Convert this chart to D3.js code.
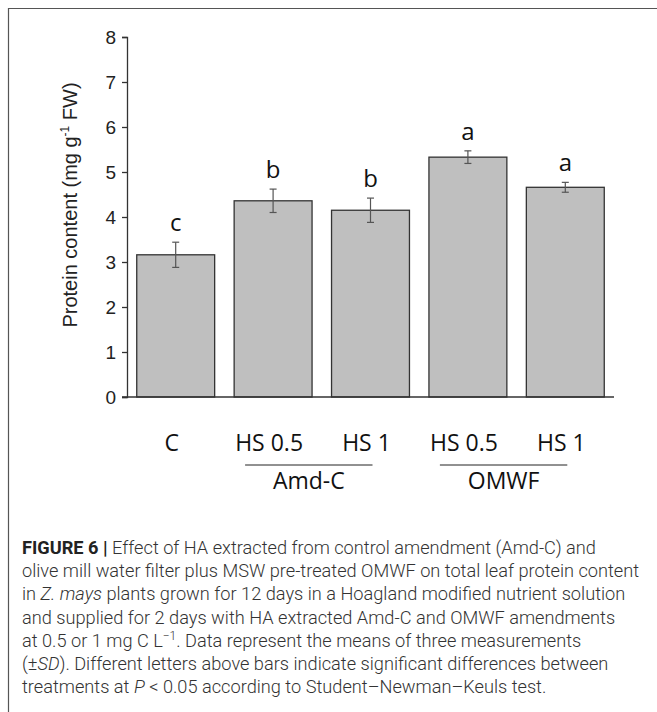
<!DOCTYPE html>
<html>
<head>
<meta charset="utf-8">
<script src="https://cdn.jsdelivr.net/npm/d3@7"></script>
<style>
  body { margin: 0; background: #fff; }
  svg { display: block; }
</style>
</head>
<body>
<svg id="chart" width="657" height="712"></svg>
<script>
// data
const categories = ["C", "HS 0.5 (Amd-C)", "HS 1 (Amd-C)", "HS 0.5 (OMWF)", "HS 1 (OMWF)"];
const tickNames = ["C", "HS 0.5", "HS 1", "HS 0.5", "HS 1"];
const means = [3.16, 4.36, 4.15, 5.33, 4.66];
const sds = [0.28, 0.26, 0.27, 0.14, 0.11];
const letters = ["c", "b", "b", "a", "a"];
const groups = [
  { name: "Amd-C", first: 1, last: 2 },
  { name: "OMWF", first: 3, last: 4 }
];
const yTicks = [0, 1, 2, 3, 4, 5, 6, 7, 8];

// caption, one array per line: [text, style]
const caption = [
  [["FIGURE 6 |", "b"], [" Effect of HA extracted from control amendment (Amd-C) and", ""]],
  [["olive mill water filter plus MSW pre-treated OMWF on total leaf protein content", ""]],
  [["in ", ""], ["Z. mays", "i"], [" plants grown for 12 days in a Hoagland modified nutrient solution", ""]],
  [["and supplied for 2 days with HA extracted Amd-C and OMWF amendments", ""]],
  [["at 0.5 or 1 mg C L", ""], ["\u22121", "sup"], [". Data represent the means of three measurements", ""]],
  [["(\u00b1", ""], ["SD", "i"], ["). Different letters above bars indicate significant differences between", ""]],
  [["treatments at ", ""], ["P", "i"], [" < 0.05 according to Student\u2013Newman\u2013Keuls test.", ""]]
];

const svg = d3.select("#chart");

// frame (only top and left edges fall inside the picture)
svg.append("path")
  .attr("d", "M8.5,712V8.5H657")
  .attr("fill", "none")
  .attr("stroke", "#555")
  .attr("stroke-width", 1.2);

const x = d3.scaleBand()
  .domain(categories)
  .range([127, 614])
  .paddingInner(0.2)
  .paddingOuter(0.1);

const y = d3.scaleLinear()
  .domain([0, 8])
  .range([397, 37]);

const axisFont = "'Liberation Sans', Arial, sans-serif";
const labelFont = "'Open Sans', sans-serif";

// y axis
const yAxis = svg.append("g")
  .attr("transform", "translate(127,0)")
  .call(d3.axisLeft(y).tickValues(yTicks).tickSize(5).tickPadding(6));
yAxis.attr("font-family", axisFont).attr("font-size", 19);
yAxis.select(".domain").attr("stroke", "#333").attr("stroke-width", 1.3);
yAxis.selectAll(".tick line").attr("stroke", "#333").attr("stroke-width", 1.3);
yAxis.selectAll(".tick text").attr("fill", "#222");

// y label
const yLab = svg.append("text")
  .attr("transform", "translate(77,205) rotate(-90)")
  .attr("text-anchor", "middle")
  .attr("font-family", axisFont)
  .attr("font-size", 20)
  .attr("fill", "#222");
yLab.append("tspan").text("Protein content (mg g");
yLab.append("tspan").attr("font-size", 12).attr("dy", -8).text("-1");
yLab.append("tspan").attr("dy", 8).text(" FW)");

// bars
svg.append("g").selectAll("rect")
  .data(means)
  .join("rect")
    .attr("x", (d, i) => x(categories[i]))
    .attr("y", d => y(d))
    .attr("width", x.bandwidth())
    .attr("height", d => y(0) - y(d))
    .attr("fill", "#bfbfbf")
    .attr("stroke", "#333")
    .attr("stroke-width", 1.3);

// x axis line
svg.append("line")
  .attr("x1", 122).attr("x2", 614)
  .attr("y1", y(0)).attr("y2", y(0))
  .attr("stroke", "#333")
  .attr("stroke-width", 1.5);

// error bars
const eb = svg.append("g").attr("stroke", "#555").attr("stroke-width", 1.2);
means.forEach((m, i) => {
  const cx = x(categories[i]) + x.bandwidth() / 2;
  const top = y(m + sds[i]), bot = y(m - sds[i]);
  eb.append("line").attr("x1", cx).attr("x2", cx).attr("y1", top).attr("y2", bot);
  eb.append("line").attr("x1", cx - 3.5).attr("x2", cx + 3.5).attr("y1", top).attr("y2", top);
  eb.append("line").attr("x1", cx - 3.5).attr("x2", cx + 3.5).attr("y1", bot).attr("y2", bot);
});

// significance letters
svg.append("g").selectAll("text")
  .data(letters)
  .join("text")
    .attr("x", (d, i) => x(categories[i]) + x.bandwidth() / 2)
    .attr("y", (d, i) => y(means[i] + sds[i]) - 11)
    .attr("text-anchor", "middle")
    .attr("font-family", labelFont)
    .attr("font-size", 24)
    .attr("fill", "#111")
    .text(d => d);

// category labels
svg.append("g").selectAll("text")
  .data(tickNames)
  .join("text")
    .attr("x", (d, i) => x(categories[i]) + x.bandwidth() / 2 - 4)
    .attr("y", 451)
    .attr("text-anchor", "middle")
    .attr("font-family", labelFont)
    .attr("font-size", 23)
    .attr("fill", "#111")
    .text(d => d);

// group brackets
groups.forEach(g => {
  const x1 = x(categories[g.first]) + x.bandwidth() / 2 - 28;
  const x2 = x(categories[g.last]) + x.bandwidth() / 2 + 2;
  svg.append("line")
    .attr("x1", x1).attr("x2", x2)
    .attr("y1", 465).attr("y2", 465)
    .attr("stroke", "#222").attr("stroke-width", 1);
  svg.append("text")
    .attr("x", (x1 + x2) / 2)
    .attr("y", 489)
    .attr("text-anchor", "middle")
    .attr("font-family", labelFont)
    .attr("font-size", 23)
    .attr("fill", "#111")
    .text(g.name);
});

// caption
const cap = svg.append("g")
  .attr("font-family", "Roboto, 'Liberation Sans', sans-serif")
  .attr("font-size", 18.2)
  .attr("font-weight", 300)
  .attr("fill", "#333");
caption.forEach((line, li) => {
  const t = cap.append("text").attr("x", 22).attr("y", 554 + li * 23.2);
  line.forEach(([txt, st]) => {
    const s = t.append("tspan").text(txt);
    if (st === "b") s.attr("font-weight", 700).attr("fill", "#222");
    if (st === "i") s.attr("font-style", "italic");
    if (st === "sup") {
      s.attr("font-size", 12).attr("dy", -7);
    }
  });
  // drop back to baseline after a superscript
  t.selectAll("tspan").each(function(d, k, nodes) {
    if (k > 0 && nodes[k - 1].getAttribute("dy") === "-7") d3.select(this).attr("dy", 7);
  });
});
</script>
</body>
</html>
